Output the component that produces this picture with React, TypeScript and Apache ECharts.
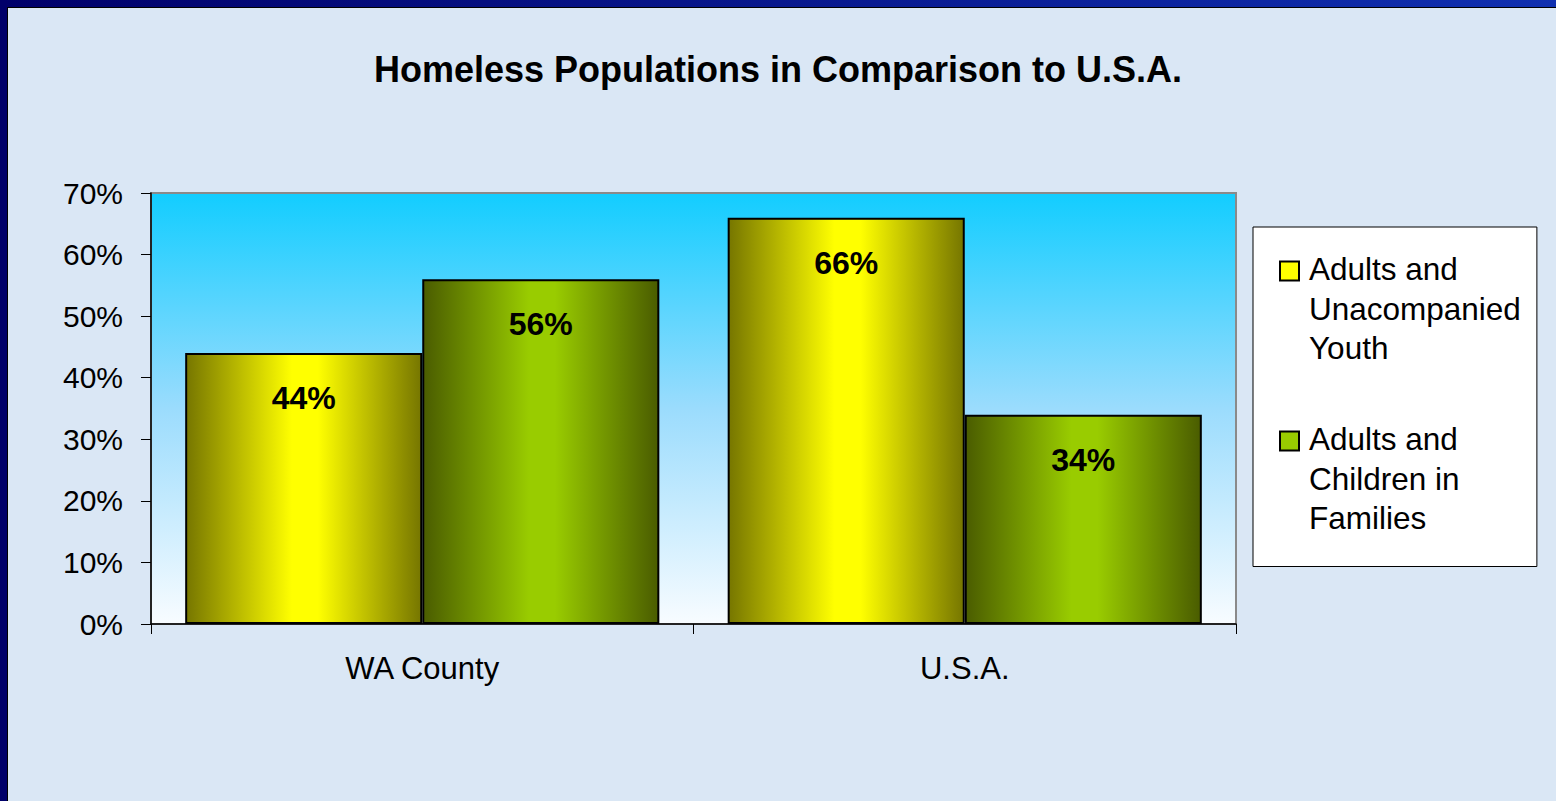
import React, { useEffect, useRef } from "react";
import * as echarts from "echarts";

const categories = ["WA County", "U.S.A."];
const seriesNames = ["Adults and Unacompanied Youth", "Adults and Children in Families"];
const legendLabels = ["Adults and\nUnacompanied\nYouth", "Adults and\nChildren in\nFamilies"];
const youthValues = [44, 66];
const familyValues = [56, 34];
const yTicks = [0, 10, 20, 30, 40, 50, 60, 70];
const titleText = "Homeless Populations in Comparison to U.S.A.";

const FONT = "'Liberation Sans', Arial, Helvetica, sans-serif";

function barGradient(edge: string, mid: string) {
  return new echarts.graphic.LinearGradient(0, 0, 1, 0, [
    { offset: 0, color: edge },
    { offset: 0.45, color: mid },
    { offset: 0.56, color: mid },
    { offset: 1, color: edge },
  ]);
}

export default function App() {
  const ref = useRef<HTMLDivElement>(null);
  useEffect(() => {
    if (!ref.current) return;
    const chart = echarts.init(ref.current, null, { renderer: "svg" });
    const iconPath = "path://M0,0M0,12h19v19h-19zM19,118.5";
    const labelCfg = {
      show: true,
      position: "insideTop",
      distance: 29,
      formatter: "{c}%",
      color: "#000",
      fontFamily: FONT,
      fontWeight: "bold",
      fontSize: 32,
      lineHeight: 32,
    };
    chart.setOption({
      animation: false,
      backgroundColor: "#dae7f5",
      title: {
        text: titleText,
        left: "center",
        top: 51,
        padding: 0,
        textStyle: { fontFamily: FONT, fontWeight: "bold", fontSize: 36, lineHeight: 36, color: "#000" },
      },
      graphic: [
        {
          type: "rect",
          shape: { x: 0, y: 0, width: 1556, height: 7 },
          style: {
            fill: new echarts.graphic.LinearGradient(0, 0, 1, 0, [
              { offset: 0, color: "#00006a" },
              { offset: 1, color: "#1030b0" },
            ]),
          },
          silent: true,
        },
        { type: "rect", shape: { x: 0, y: 0, width: 7, height: 801 }, style: { fill: "#00006a" }, silent: true },
        { type: "line", shape: { x1: 7.5, y1: 7, x2: 7.5, y2: 801 }, style: { stroke: "#000", lineWidth: 1 }, silent: true },
        { type: "line", shape: { x1: 7, y1: 7.5, x2: 1556, y2: 7.5 }, style: { stroke: "#000", lineWidth: 1 }, silent: true },
      ],
      legend: {
        orient: "vertical",
        left: 1253,
        top: 227,
        padding: [21.5, 16, 27.5, 26],
        itemGap: 49.5,
        itemWidth: 19,
        itemHeight: 118.5,
        backgroundColor: "#ffffff",
        borderColor: "#000",
        borderWidth: 1,
        selectedMode: false,
        icon: iconPath,
        data: [
          { name: seriesNames[0], itemStyle: { color: "#ffff00", borderColor: "#000", borderWidth: 2 } },
          { name: seriesNames[1], itemStyle: { color: "#99cc00", borderColor: "#000", borderWidth: 2 } },
        ],
        formatter: (name: string) => legendLabels[seriesNames.indexOf(name)],
        textStyle: {
          fontFamily: FONT,
          fontSize: 31.5,
          lineHeight: 39.5,
          color: "#000",
          padding: [0, 0, 0, 5],
        },
      },
      grid: {
        left: 151,
        top: 193,
        right: 320,
        bottom: 177,
        show: true,
        borderColor: "#8a8a8a",
        borderWidth: 2,
        backgroundColor: new echarts.graphic.LinearGradient(0, 0, 0, 1, [
          { offset: 0, color: "#12cdff" },
          { offset: 0.5, color: "#9bdcfd" },
          { offset: 1, color: "#f8fcff" },
        ]),
      },
      xAxis: {
        type: "category",
        data: categories,
        axisLine: { lineStyle: { color: "#000", width: 1.5 } },
        axisTick: { show: true, length: 10, lineStyle: { color: "#000" } },
        axisLabel: { fontFamily: FONT, fontSize: 31, color: "#000", margin: 29 },
      },
      yAxis: {
        type: "value",
        min: yTicks[0],
        max: yTicks[yTicks.length - 1],
        interval: 10,
        axisLine: { show: true, lineStyle: { color: "#000", width: 1.5 } },
        axisTick: { show: true, length: 10, lineStyle: { color: "#000" } },
        splitLine: { show: false },
        axisLabel: { fontFamily: FONT, fontSize: 30, color: "#000", margin: 28, formatter: "{value}%" },
      },
      series: [
        {
          name: seriesNames[0],
          type: "bar",
          data: youthValues,
          barGap: "0%",
          barCategoryGap: "12.6%",
          itemStyle: { color: barGradient("#767600", "#ffff00"), borderColor: "#000", borderWidth: 2 },
          label: labelCfg,
        },
        {
          name: seriesNames[1],
          type: "bar",
          data: familyValues,
          barGap: "0%",
          barCategoryGap: "12.6%",
          itemStyle: { color: barGradient("#4a5c00", "#99cc00"), borderColor: "#000", borderWidth: 2 },
          label: labelCfg,
        },
      ],
    });
    return () => chart.dispose();
  }, []);
  return (
    <div
      ref={ref}
      style={{ position: "fixed", left: 0, top: 0, width: "1556px", height: "801px" }}
    />
  );
}
